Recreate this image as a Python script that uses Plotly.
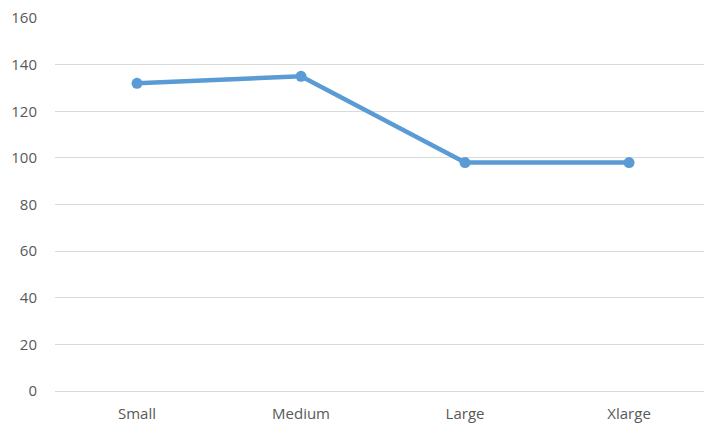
import plotly.graph_objects as go

categories = ["Small", "Medium", "Large", "Xlarge"]
values = [132, 135, 98, 98]
y_ticks = [0, 20, 40, 60, 80, 100, 120, 140, 160]

fig = go.Figure(
    go.Scatter(
        x=categories,
        y=values,
        mode="lines+markers",
        line=dict(color="#5B9BD5", width=4.5),
        marker=dict(color="#5B9BD5", size=11),
        hoverinfo="x+y",
    )
)

fig.update_layout(
    width=704,
    height=425,
    margin=dict(l=55, r=0, t=18, b=34),
    paper_bgcolor="white",
    plot_bgcolor="white",
    showlegend=False,
    font=dict(family="Open Sans, Lato, sans-serif", size=15, color="#595959"),
)

fig.update_xaxes(
    type="category",
    range=[-0.5, 3.457],
    showgrid=False,
    showline=False,
    zeroline=False,
    ticks="",
    ticklabelstandoff=12,
    tickfont=dict(size=15, color="#595959"),
)

fig.update_yaxes(
    range=[0, 160],
    tickvals=y_ticks,
    showgrid=True,
    gridcolor="#D9D9D9",
    gridwidth=1,
    zeroline=True,
    zerolinecolor="#D9D9D9",
    zerolinewidth=1,
    showline=False,
    ticks="",
    ticklabelstandoff=17,
    tickfont=dict(size=15, color="#595959"),
)

fig.write_html("out.html")
